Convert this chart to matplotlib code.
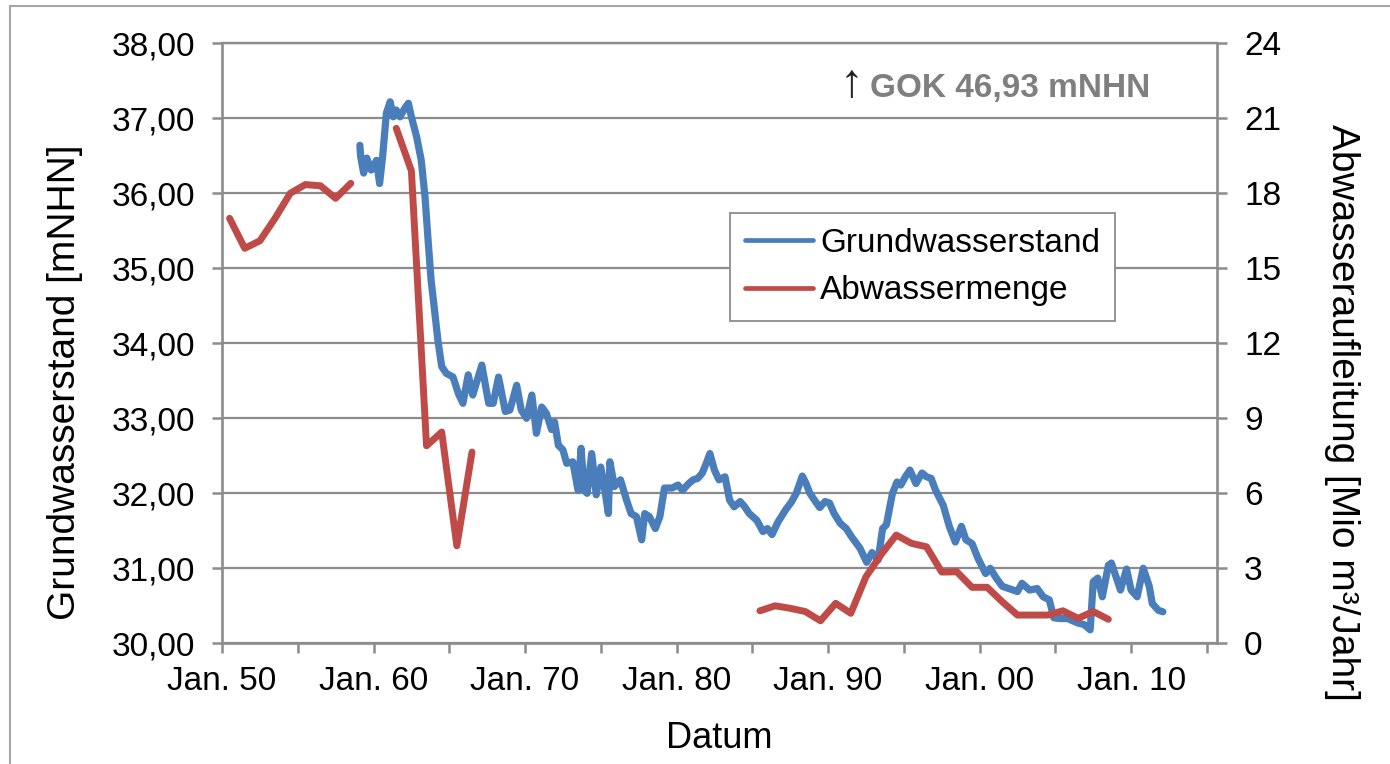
import numpy as np
import matplotlib
matplotlib.use("Agg")
import matplotlib.pyplot as plt
from matplotlib.patches import Rectangle
from matplotlib.lines import Line2D

# ---------------- data ----------------
gw_years = [1959.10, 1959.15, 1959.35, 1959.55, 1959.85, 1960.20, 1960.40, 1960.60, 1960.85,
            1961.10, 1961.30, 1961.50, 1961.75, 1962.05, 1962.30, 1962.50, 1962.85, 1963.15,
            1963.40, 1963.60, 1963.80, 1963.95, 1964.25, 1964.50, 1964.80, 1965.25, 1965.60,
            1965.90, 1966.25, 1966.55, 1967.15, 1967.60, 1967.90, 1968.25, 1968.70, 1969.00,
            1969.45, 1969.75, 1970.10, 1970.45, 1970.75, 1971.10, 1971.40, 1971.75, 1971.95,
            1972.20, 1972.50, 1972.75, 1973.15, 1973.50, 1973.70, 1973.90, 1974.10, 1974.40,
            1974.70, 1975.00, 1975.30, 1975.50, 1975.60, 1975.90, 1976.30, 1976.70, 1977.00,
            1977.35, 1977.70, 1977.90, 1978.20, 1978.60, 1978.90, 1979.20, 1979.70, 1980.10,
            1980.40, 1980.80, 1981.10, 1981.40, 1981.70, 1982.00, 1982.20, 1982.50, 1982.80,
            1983.20, 1983.50, 1983.80, 1984.20, 1984.50, 1984.80, 1985.30, 1985.70, 1986.00,
            1986.30, 1986.70, 1987.20, 1987.60, 1987.90, 1988.30, 1988.55, 1988.80, 1989.10,
            1989.45, 1989.80, 1990.10, 1990.40, 1990.80, 1991.20, 1991.55, 1992.10, 1992.55,
            1992.90, 1993.30, 1993.60, 1993.85, 1994.25, 1994.55, 1994.80, 1995.10, 1995.40,
            1995.80, 1996.20, 1996.50, 1996.80, 1997.10, 1997.60, 1998.00, 1998.40, 1998.80,
            1999.10, 1999.50, 1999.90, 2000.40, 2000.70, 2001.10, 2001.50, 2002.20, 2002.50,
            2002.80, 2003.30, 2003.80, 2004.20, 2004.60, 2004.90, 2005.30, 2005.80, 2006.50,
            2006.90, 2007.30, 2007.50, 2007.80, 2008.10, 2008.50, 2008.70, 2009.00, 2009.30,
            2009.70, 2010.00, 2010.40, 2010.80, 2011.20, 2011.40, 2011.80, 2012.10]
gw_level = [36.64, 36.49, 36.27, 36.47, 36.31, 36.44, 36.13, 36.49, 37.07,
            37.22, 37.02, 37.11, 37.02, 37.13, 37.20, 37.02, 36.75, 36.44,
            35.95, 35.38, 34.84, 34.58, 34.04, 33.69, 33.60, 33.55, 33.33,
            33.20, 33.58, 33.31, 33.71, 33.20, 33.20, 33.55, 33.09, 33.11,
            33.44, 33.11, 33.00, 33.31, 32.80, 33.15, 33.07, 32.85, 32.95,
            32.64, 32.58, 32.40, 32.42, 32.04, 32.60, 32.04, 32.00, 32.53,
            31.98, 32.35, 32.00, 31.73, 32.42, 32.09, 32.18, 31.91, 31.73,
            31.69, 31.38, 31.73, 31.69, 31.53, 31.69, 32.07, 32.07, 32.11,
            32.04, 32.13, 32.18, 32.20, 32.27, 32.42, 32.53, 32.31, 32.18,
            32.22, 31.91, 31.82, 31.89, 31.82, 31.73, 31.64, 31.49, 31.53,
            31.45, 31.62, 31.78, 31.89, 32.00, 32.23, 32.13, 32.00, 31.91,
            31.81, 31.89, 31.87, 31.73, 31.60, 31.53, 31.42, 31.27, 31.08,
            31.21, 31.11, 31.53, 31.58, 32.00, 32.15, 32.11, 32.22, 32.31,
            32.13, 32.27, 32.22, 32.20, 32.04, 31.84, 31.56, 31.35, 31.56,
            31.38, 31.33, 31.13, 30.93, 31.00, 30.87, 30.76, 30.71, 30.69,
            30.80, 30.71, 30.73, 30.62, 30.58, 30.34, 30.33, 30.33, 30.27,
            30.25, 30.18, 30.82, 30.87, 30.62, 31.04, 31.07, 30.89, 30.71,
            30.99, 30.71, 30.62, 31.00, 30.76, 30.53, 30.44, 30.42]

ab_years = [1950.5, 1951.5, 1952.5, 1953.5, 1954.5, 1955.5, 1956.5, 1957.5, 1958.5,
            1960.0,
            1961.5, 1962.5, 1963.5, 1964.5, 1965.5, 1966.5,
            1976.0,
            1985.5, 1986.5, 1987.5, 1988.5, 1989.5, 1990.5, 1991.5, 1992.5, 1993.5,
            1994.5, 1995.5, 1996.5, 1997.5, 1998.5, 1999.5, 2000.5, 2001.5, 2002.5,
            2003.5, 2004.5, 2005.5, 2006.5, 2007.5, 2008.5]
ab_menge = [17.0, 15.8, 16.1, 17.0, 18.0, 18.35, 18.3, 17.8, 18.4,
            np.nan,
            20.6, 18.9, 7.9, 8.45, 3.9, 7.65,
            np.nan,
            1.3, 1.5, 1.4, 1.27, 0.9, 1.6, 1.2, 2.66, 3.55,
            4.33, 4.0, 3.86, 2.85, 2.86, 2.24, 2.24, 1.66, 1.13,
            1.13, 1.13, 1.3, 1.0, 1.27, 0.96]

x_major = [1950, 1960, 1970, 1980, 1990, 2000, 2010]
x_labels = ["Jan. 50", "Jan. 60", "Jan. 70", "Jan. 80", "Jan. 90", "Jan. 00", "Jan. 10"]
x_minor = [1955, 1965, 1975, 1985, 1995, 2005, 2015]
yl_ticks = [30, 31, 32, 33, 34, 35, 36, 37, 38]
yl_labels = ["30,00", "31,00", "32,00", "33,00", "34,00", "35,00", "36,00", "37,00", "38,00"]
yr_ticks = [0, 3, 6, 9, 12, 15, 18, 21, 24]

# ---------------- style ----------------
plt.rcParams['font.family'] = ['Liberation Sans', 'DejaVu Sans']
BLUE = "#4A7EBB"
RED = "#BE4B48"
GRAY = "#8C8C8C"
W, H = 1390, 764

fig = plt.figure(figsize=(W / 100, H / 100), dpi=100)
ax = fig.add_axes([222 / W, (H - 643.3) / H, (1217 - 222) / W, 600 / H])
ax2 = ax.twinx()

ax.plot(gw_years, gw_level, color=BLUE, lw=5.2, solid_capstyle='round',
        solid_joinstyle='round', label="Grundwasserstand")
ax2.plot(ab_years, ab_menge, color=RED, lw=5.0, solid_capstyle='round',
         solid_joinstyle='round', label="Abwassermenge")

ax.set_xlim(1950, 2015.67)
ax.set_ylim(30, 38)
ax2.set_ylim(0, 24)

ax.set_xticks(x_major)
ax.set_xticklabels(x_labels)
ax.set_xticks(x_minor, minor=True)
ax.set_yticks(yl_ticks)
ax.set_yticklabels(yl_labels)
ax2.set_yticks(yr_ticks)

ax.grid(axis='y', color=GRAY, lw=1.6)
ax.set_axisbelow(True)

for a in (ax, ax2):
    for s in a.spines.values():
        s.set_color(GRAY)
        s.set_linewidth(1.9)
    a.spines['top'].set_linewidth(1.6)
ax.spines['right'].set_visible(False)
ax2.spines['left'].set_visible(False)
ax2.spines['bottom'].set_visible(False)

ax.tick_params(axis='both', which='both', direction='out', length=7.5, width=1.8,
               color=GRAY, labelsize=24, labelcolor='black')
ax.tick_params(axis='y', pad=12)
ax.tick_params(axis='x', which='major', pad=9)
ax2.tick_params(axis='y', direction='out', length=7.5, width=1.8, color=GRAY,
                labelsize=24, labelcolor='black', pad=12)

ax.set_xlabel("Datum", fontsize=26)
ax.xaxis.set_label_coords(0.5, -0.158)
ax.xaxis.label.set_va('center')
ax.set_ylabel("Grundwasserstand [mNHN]", fontsize=28, va='center')
ax.yaxis.set_label_coords(-0.158, 0.435)
ax2.set_ylabel("Abwasseraufleitung [Mio m³/Jahr]", fontsize=28, rotation=-90, va='center')
ax2.yaxis.set_label_coords(1.1256, 0.385)

# legend
handles = [Line2D([], [], color=BLUE, lw=3.4, solid_capstyle='round'),
           Line2D([], [], color=RED, lw=3.4, solid_capstyle='round')]
leg = ax2.legend(handles, ["Grundwasserstand", "Abwassermenge"],
                 loc='upper left', bbox_to_anchor=((730 - 222) / 995, (643.3 - 212.7) / 600),
                 borderaxespad=0, fontsize=24, frameon=True, fancybox=False,
                 framealpha=1, edgecolor=GRAY, handlelength=2.05, handletextpad=0.2,
                 labelspacing=0.5, borderpad=0.45)
leg.get_frame().set_linewidth(1.3)

# GOK annotation
ax2.text((840 - 222) / 995, (643.3 - 97.5) / 600, "↑", transform=ax.transAxes,
         fontsize=34, color='#222222', ha='left', va='baseline')
ax2.text((870 - 222) / 995, (643.3 - 96.7) / 600, "GOK 46,93 mNHN", transform=ax.transAxes,
         fontsize=24, fontweight='bold', color='#7F7F7F', ha='left', va='baseline')

# outer chart frame
fig.patches.append(Rectangle((10 / W, -0.1), 1.2, (H - 6) / H + 0.1, transform=fig.transFigure,
                             fill=False, edgecolor='#A6A6A6', lw=1.5, zorder=0))

fig.savefig("out.png", dpi=100)
